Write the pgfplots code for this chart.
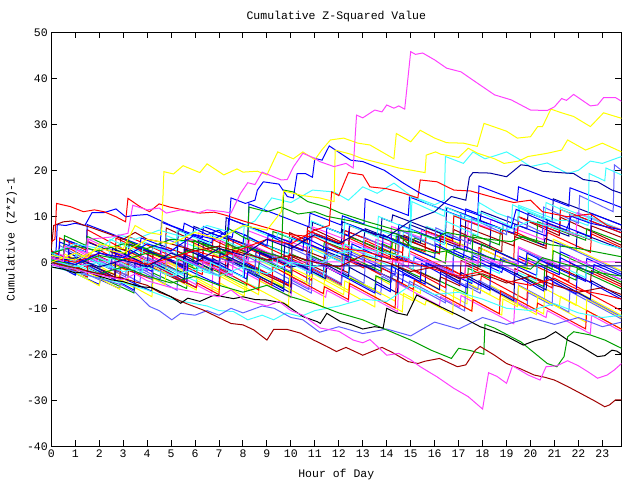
\documentclass[border=0pt]{standalone}
\usepackage{pgfplots}
\pgfplotsset{compat=1.18}
\usepackage{fontspec}
\setmonofont{Liberation Mono}
\newcommand\gp{\ttfamily\fontsize{11.5bp}{13bp}\selectfont}
\definecolor{gR}{HTML}{FF0000}
\definecolor{gG}{HTML}{00A000}
\definecolor{gB}{HTML}{0000FF}
\definecolor{gM}{HTML}{FF40FF}
\definecolor{gC}{HTML}{40FFFF}
\definecolor{gY}{HTML}{FFFF00}
\definecolor{gD}{HTML}{A00000}
\definecolor{gL}{HTML}{6060FF}
\definecolor{gN}{HTML}{0000A0}
\begin{document}
\begin{tikzpicture}
\useasboundingbox (-51.3bp,-33.7bp) rectangle (588.7bp,446.3bp);
\begin{axis}[
  at={(0,0)}, anchor=south west,
  scale only axis, width=570bp, height=414bp,
  xmin=0, xmax=23.79, ymin=-40, ymax=50,
  xtick={0,1,...,23}, ytick={-40,-30,...,50},
  tick align=inside, major tick length=6bp,
  axis line style={line width=1bp},
  every tick/.style={black, line width=1bp},
  tick label style={font=\gp},
  /pgf/number format/assume math mode=true,
  title={Cumulative Z-Squared Value},
  every axis title/.style={font=\gp, at={(axis description cs:0.5,1.0307)}, anchor=base},
  xlabel={Hour of Day},
  xlabel style={font=\gp, at={(axis description cs:0.5,-0.0756)}, anchor=base},
  ylabel={Cumulative (Z*Z)-1},
  ylabel style={font=\gp, at={(axis description cs:-0.0642,0.5)}, anchor=base},
  no markers,
  every axis plot/.append style={line width=1bp},
  clip=true,
]
% ---- band lines ----
\addplot[gR] coordinates {(0,2)(0.7,0.32)(0.75,3.82)(2.65,-0.74)(2.7,5.26)(3.2,4.06)(3.25,5.56)(5.55,0.04)(5.6,5.04)(6.7,2.4)(6.75,4.9)(7.35,3.46)(7.4,4.96)(10.0,-1.28)(10.05,5.72)(11.45,2.36)(11.5,5.36)(12.4,3.2)(12.45,5.2)(14.45,0.4)(14.5,5.9)(16.2,1.82)(16.25,5.82)(17.05,3.9)(17.1,5.9)(19.3,0.62)(19.35,6.62)(20.65,3.5)(20.7,6.5)(22.5,2.18)(22.55,6.18)(23.8,3.18)};
\addplot[gB] coordinates {(0,0.5)(1.5,-3.1)(1.55,0.9)(1.95,-0.06)(2.0,1.14)(3.2,-1.74)(3.25,1.26)(6.05,-5.46)(6.1,1.54)(7.0,-0.62)(7.05,1.38)(8.65,-2.46)(8.7,2.04)(9.2,0.84)(9.25,1.84)(11.35,-3.2)(11.4,1.8)(12.4,-0.6)(12.45,1.9)(14.35,-2.66)(14.4,1.34)(15.1,-0.34)(15.15,1.16)(17.55,-4.6)(17.6,1.4)(18.7,-1.24)(18.75,0.76)(20.25,-2.84)(20.3,0.66)(22.3,-4.14)(22.35,0.86)(23.8,-2.62)};
\addplot[gN] coordinates {(0,1)(0.3,0.4)(0.35,1.4)(1.45,-0.8)(1.5,1.7)(3.7,-2.7)(3.75,3.3)(4.55,1.7)(4.6,3.7)(6.3,0.3)(6.35,4.3)(7.55,1.9)(7.6,4.9)(8.2,3.7)(8.25,5.2)(10.75,0.2)(10.8,6.7)(12.1,4.1)(12.15,7.1)(13.05,5.3)(13.1,7.3)(14.9,3.7)(14.95,8.2)(17.25,3.6)(17.3,9.1)(17.8,8.1)(17.85,9.1)(19.45,5.9)(19.5,9.9)(21.6,5.7)(21.65,10.7)(23.8,6.4)};
\addplot[gY] coordinates {(0,1.5)(1.0,-1.3)(1.05,1.2)(3.45,-5.52)(3.5,0.48)(4.2,-1.48)(4.25,0.02)(5.65,-3.9)(5.7,-0.4)(6.1,-1.52)(6.15,-0.52)(8.15,-6.12)(8.2,-1.12)(9.7,-5.32)(9.75,-1.82)(10.85,-4.9)(10.9,-2.4)(13.5,-9.68)(13.55,-3.18)(14.15,-4.86)(14.2,-3.36)(15.4,-6.72)(15.45,-3.72)(17.35,-9.04)(17.4,-4.54)(18.3,-7.06)(18.35,-5.06)(20.55,-11.22)(20.6,-5.72)(21.9,-9.36)(21.95,-6.36)(23.8,-11.54)};
\addplot[gD] coordinates {(0,2.5)(2.0,-2.3)(2.05,1.2)(2.85,-0.72)(2.9,5.28)(4.2,2.16)(4.25,3.66)(4.75,2.46)(4.8,7.46)(7.0,2.18)(7.05,4.68)(8.05,2.28)(8.1,3.78)(9.9,-0.54)(9.95,6.46)(10.65,4.78)(10.7,7.78)(12.2,4.18)(12.25,6.18)(14.65,0.42)(14.7,5.92)(15.6,3.76)(15.65,7.76)(16.75,5.12)(16.8,7.12)(18.8,2.32)(18.85,8.32)(19.45,6.88)(19.5,9.88)(21.2,5.8)(21.25,9.8)(23.8,3.68)};
\addplot[gL] coordinates {(0,0)(0.5,-1.4)(0.55,2.6)(1.45,0.08)(1.5,1.28)(3.1,-3.2)(3.15,-0.2)(5.25,-6.08)(5.3,0.92)(5.9,-0.76)(5.95,1.24)(7.25,-2.4)(7.3,2.1)(10.0,-5.46)(10.05,-4.46)(10.85,-6.7)(10.9,-1.7)(12.1,-5.06)(12.15,-2.56)(13.75,-7.04)(13.8,-3.04)(14.2,-4.16)(14.25,-2.66)(16.45,-8.82)(16.5,-2.82)(17.9,-6.74)(17.95,-4.74)(19.85,-10.06)(19.9,-6.56)(20.9,-9.36)(20.95,-4.36)(23.8,-12.34)};
\addplot[gR] coordinates {(0,1)(0.3,0.28)(0.35,5.28)(1.45,2.64)(1.5,4.64)(3.7,-0.64)(3.75,2.36)(4.55,0.44)(4.6,1.44)(6.3,-2.64)(6.35,2.86)(7.55,-0.02)(7.6,2.48)(8.2,1.04)(8.25,5.04)(10.75,-0.96)(10.8,0.54)(12.1,-2.58)(12.15,0.92)(13.05,-1.24)(13.1,4.76)(14.9,0.44)(14.95,2.44)(17.25,-3.08)(17.3,-0.58)(17.8,-1.78)(17.85,3.22)(19.45,-0.62)(19.5,0.88)(21.6,-4.16)(21.65,-0.16)(23.8,-5.32)};
\addplot[gG] coordinates {(0,0)(1.0,-2.4)(1.05,-0.9)(3.45,-6.66)(3.5,-4.66)(4.2,-6.34)(4.25,-2.34)(5.65,-5.7)(5.7,-0.7)(6.1,-1.66)(6.15,-0.16)(8.15,-4.96)(8.2,-1.96)(9.7,-5.56)(9.75,0.94)(10.85,-1.7)(10.9,0.3)(13.5,-5.94)(13.55,-2.94)(14.15,-4.38)(14.2,-0.38)(15.4,-3.26)(15.45,-2.26)(17.35,-6.82)(17.4,-1.32)(18.3,-3.48)(18.35,0.02)(20.55,-5.26)(20.6,-0.76)(21.9,-3.88)(21.95,-1.38)(23.8,-5.82)};
\addplot[gC] coordinates {(0,1.5)(2.0,-2.5)(2.05,0)(2.85,-1.6)(2.9,4.4)(4.2,1.8)(4.25,3.3)(4.75,2.3)(4.8,5.8)(7.0,1.4)(7.05,2.4)(8.05,0.4)(8.1,5.4)(9.9,1.8)(9.95,5.3)(10.65,3.9)(10.7,6.4)(12.2,3.4)(12.25,9.9)(14.65,5.1)(14.7,6.6)(15.6,4.8)(15.65,7.8)(16.75,5.6)(16.8,10.1)(18.8,6.1)(18.85,8.1)(19.45,6.9)(19.5,12.4)(21.2,9.0)(21.25,12.0)(23.8,6.9)};
\addplot[gM] coordinates {(0,0.5)(0.7,-1.46)(0.75,3.54)(2.65,-1.78)(2.7,0.22)(3.2,-1.18)(3.25,1.82)(5.55,-4.62)(5.6,-3.62)(6.7,-6.7)(6.75,-1.2)(7.35,-2.88)(7.4,-0.38)(10.0,-7.66)(10.05,-3.66)(11.45,-7.58)(11.5,-6.08)(12.4,-8.6)(12.45,-5.1)(14.45,-10.7)(14.5,-4.7)(16.2,-9.46)(16.25,-7.46)(17.05,-9.7)(17.1,-7.2)(19.3,-13.36)(19.35,-8.36)(20.65,-12.0)(20.7,-10.5)(22.5,-15.54)(22.55,-11.54)(23.8,-15.04)};
\addplot[gN] coordinates {(0,2)(0.5,1)(0.55,5)(1.45,3.2)(1.5,4.4)(3.1,1.2)(3.15,4.2)(5.25,0)(5.3,7)(5.9,5.8)(5.95,7.8)(7.25,5.2)(7.3,9.7)(10.0,4.3)(10.05,5.3)(10.85,3.7)(10.9,8.7)(12.1,6.3)(12.15,8.8)(13.75,5.6)(13.8,9.6)(14.2,8.8)(14.25,10.3)(16.45,5.9)(16.5,11.9)(17.9,9.1)(17.95,11.1)(19.85,7.3)(19.9,10.8)(20.9,8.8)(20.95,13.8)(23.8,8.1)};
\addplot[gY] coordinates {(0,1)(1.5,-3.2)(1.55,-2.2)(1.95,-3.32)(2.0,-0.82)(3.2,-4.18)(3.25,1.82)(6.05,-6.02)(6.1,-4.02)(7.0,-6.54)(7.05,-2.54)(8.65,-7.02)(8.7,-4.02)(9.2,-5.42)(9.25,-3.92)(11.35,-9.8)(11.4,-3.3)(12.4,-6.1)(12.45,-3.1)(14.35,-8.42)(14.4,-6.42)(15.1,-8.38)(15.15,-3.88)(17.55,-10.6)(17.6,-5.1)(18.7,-8.18)(18.75,-7.18)(20.25,-11.38)(20.3,-7.38)(22.3,-12.98)(22.35,-7.98)(23.8,-12.04)};
\addplot[gB] coordinates {(0,0)(2.0,-4.8)(2.05,-3.8)(2.85,-5.72)(2.9,-3.22)(4.2,-6.34)(4.25,-0.34)(4.75,-1.54)(4.8,0.46)(7.0,-4.82)(7.05,-0.82)(8.05,-3.22)(8.1,-0.22)(9.9,-4.54)(9.95,-3.04)(10.65,-4.72)(10.7,1.78)(12.2,-1.82)(12.25,1.18)(14.65,-4.58)(14.7,-2.58)(15.6,-4.74)(15.65,-0.24)(16.75,-2.88)(16.8,2.62)(18.8,-2.18)(18.85,-1.18)(19.45,-2.62)(19.5,1.38)(21.2,-2.7)(21.25,2.3)(23.8,-3.82)};
\addplot[gD] coordinates {(0,1)(0.7,-0.68)(0.75,0.82)(2.65,-3.74)(2.7,-1.74)(3.2,-2.94)(3.25,1.06)(5.55,-4.46)(5.6,0.54)(6.7,-2.1)(6.75,-0.6)(7.35,-2.04)(7.4,0.96)(10.0,-5.28)(10.05,1.22)(11.45,-2.14)(11.5,-0.14)(12.4,-2.3)(12.45,0.7)(14.45,-4.1)(14.5,-0.1)(16.2,-4.18)(16.25,-3.18)(17.05,-5.1)(17.1,0.4)(19.3,-4.88)(19.35,-1.38)(20.65,-4.5)(20.7,0)(22.5,-4.32)(22.55,-1.82)(23.8,-4.82)};
\addplot[gR] coordinates {(0,2.5)(0.5,1.1)(0.55,3.6)(1.45,1.08)(1.5,7.08)(3.1,2.6)(3.15,4.1)(5.25,-1.78)(5.3,1.72)(5.9,0.04)(5.95,1.04)(7.25,-2.6)(7.3,2.4)(10.0,-5.16)(10.05,-1.66)(10.85,-3.9)(10.9,-1.4)(12.1,-4.76)(12.15,1.74)(13.75,-2.74)(13.8,-1.24)(14.2,-2.36)(14.25,0.64)(16.45,-5.52)(16.5,-1.02)(17.9,-4.94)(17.95,-2.94)(19.85,-8.26)(19.9,-2.76)(20.9,-5.56)(20.95,-2.56)(23.8,-10.54)};
\addplot[gL] coordinates {(0,0.5)(0.3,-0.34)(0.35,3.66)(1.45,0.58)(1.5,1.78)(3.7,-4.38)(3.75,-1.38)(4.55,-3.62)(4.6,3.38)(6.3,-1.38)(6.35,0.62)(7.55,-2.74)(7.6,1.76)(8.2,0.08)(8.25,1.08)(10.75,-5.92)(10.8,-0.92)(12.1,-4.56)(12.15,-2.06)(13.05,-4.58)(13.1,-0.58)(14.9,-5.62)(14.95,-4.12)(17.25,-10.56)(17.3,-4.56)(17.8,-5.96)(17.85,-3.96)(19.45,-8.44)(19.5,-4.94)(21.6,-10.82)(21.65,-5.82)(23.8,-11.84)};
\addplot[gN] coordinates {(0,0)(1.0,-2)(1.05,3)(3.45,-1.8)(3.5,0.2)(4.2,-1.2)(4.25,1.8)(5.65,-1)(5.7,0)(6.1,-0.8)(6.15,4.7)(8.15,0.7)(8.2,3.2)(9.7,0.2)(9.75,4.2)(10.85,2)(10.9,3.5)(13.5,-1.7)(13.55,1.8)(14.15,0.6)(14.2,6.6)(15.4,4.2)(15.45,6.2)(17.35,2.4)(17.4,4.9)(18.3,3.1)(18.35,8.1)(20.55,3.7)(20.6,5.2)(21.9,2.6)(21.95,6.6)(23.8,2.9)};
\addplot[gG] coordinates {(0,1)(1.5,-2)(1.55,-0.5)(1.95,-1.3)(2.0,0.7)(3.2,-1.7)(3.25,2.3)(6.05,-3.3)(6.1,1.7)(7.0,-0.1)(7.05,1.4)(8.65,-1.8)(8.7,1.2)(9.2,0.2)(9.25,6.7)(11.35,2.5)(11.4,4.5)(12.4,2.5)(12.45,5.5)(14.35,1.7)(14.4,5.7)(15.1,4.3)(15.15,5.3)(17.55,0.5)(17.6,6)(18.7,3.8)(18.75,7.3)(20.25,4.3)(20.3,8.8)(22.3,4.8)(22.35,7.3)(23.8,4.4)};
\addplot[gY] coordinates {(0,2)(0.5,0.8)(0.55,1.8)(1.45,-0.36)(1.5,2.14)(3.1,-1.7)(3.15,4.3)(5.25,-0.74)(5.3,1.26)(5.9,-0.18)(5.95,3.82)(7.25,0.7)(7.3,3.7)(10.0,-2.78)(10.05,-1.28)(10.85,-3.2)(10.9,3.3)(12.1,0.42)(12.15,3.42)(13.75,-0.42)(13.8,1.58)(14.2,0.62)(14.25,5.12)(16.45,-0.16)(16.5,5.34)(17.9,1.98)(17.95,2.98)(19.85,-1.58)(19.9,2.42)(20.9,0.02)(20.95,5.02)(23.8,-1.82)};
\addplot[gM] coordinates {(0,1)(1.0,-1)(1.05,3)(3.45,-1.8)(3.5,-0.6)(4.2,-2)(4.25,1)(5.65,-1.8)(5.7,5.2)(6.1,4.4)(6.15,6.4)(8.15,2.4)(8.2,6.9)(9.7,3.9)(9.75,4.9)(10.85,2.7)(10.9,7.7)(13.5,2.5)(13.55,5)(14.15,3.8)(14.2,7.8)(15.4,5.4)(15.45,6.9)(17.35,3.1)(17.4,9.1)(18.3,7.3)(18.35,9.3)(20.55,4.9)(20.6,8.4)(21.9,5.8)(21.95,10.8)(23.8,7.1)};
\addplot[gC] coordinates {(0,0)(1.5,-3.6)(1.55,-1.1)(1.95,-2.06)(2.0,3.94)(3.2,1.06)(3.25,2.56)(6.05,-4.16)(6.1,-0.66)(7.0,-2.82)(7.05,-1.82)(8.65,-5.66)(8.7,-0.66)(9.2,-1.86)(9.25,1.64)(11.35,-3.4)(11.4,-0.9)(12.4,-3.3)(12.45,3.2)(14.35,-1.36)(14.4,0.14)(15.1,-1.54)(15.15,1.46)(17.55,-4.3)(17.6,0.2)(18.7,-2.44)(18.75,-0.44)(20.25,-4.04)(20.3,1.46)(22.3,-3.34)(22.35,-0.34)(23.8,-3.82)};
\addplot[gR] coordinates {(0,1)(2.0,-3)(2.05,-2)(2.85,-3.6)(2.9,-1.1)(4.2,-3.7)(4.25,2.3)(4.75,1.3)(4.8,3.3)(7.0,-1.1)(7.05,2.9)(8.05,0.9)(8.1,3.9)(9.9,0.3)(9.95,1.8)(10.65,0.4)(10.7,6.9)(12.2,3.9)(12.25,6.9)(14.65,2.1)(14.7,4.1)(15.6,2.3)(15.65,6.8)(16.75,4.6)(16.8,10.1)(18.8,6.1)(18.85,7.1)(19.45,5.9)(19.5,9.9)(21.2,6.5)(21.25,11.5)(23.8,6.4)};
\addplot[gB] coordinates {(0,1.5)(0.3,0.9)(0.35,4.4)(1.45,2.2)(1.5,8.2)(3.7,3.8)(3.75,5.3)(4.55,3.7)(4.6,8.7)(6.3,5.3)(6.35,7.8)(7.55,5.4)(7.6,6.9)(8.2,5.7)(8.25,12.7)(10.75,7.7)(10.8,10.7)(12.1,8.1)(12.15,10.1)(13.05,8.3)(13.1,13.8)(14.9,10.2)(14.95,14.2)(17.25,9.6)(17.3,11.6)(17.8,10.6)(17.85,16.6)(19.45,13.4)(19.5,16.4)(21.6,12.2)(21.65,16.2)(23.8,11.9)};
\addplot[gD] coordinates {(0,0)(0.7,-1.4)(0.75,1.1)(2.65,-2.7)(2.7,3.3)(3.2,2.3)(3.25,3.8)(5.55,-0.8)(5.6,2.7)(6.7,0.5)(6.75,1.5)(7.35,0.3)(7.4,5.3)(10.0,0.1)(10.05,3.6)(11.45,0.8)(11.5,3.3)(12.4,1.5)(12.45,8)(14.45,4)(14.5,5.5)(16.2,2.1)(16.25,5.1)(17.05,3.5)(17.1,8)(19.3,3.6)(19.35,5.6)(20.65,3)(20.7,8.5)(22.5,4.9)(22.55,7.9)(23.8,5.4)};
\addplot[gL] coordinates {(0,1)(2.0,-3.8)(2.05,0.2)(2.85,-1.72)(2.9,-0.52)(4.2,-3.64)(4.25,-0.64)(4.75,-1.84)(4.8,5.16)(7.0,-0.12)(7.05,1.88)(8.05,-0.52)(8.1,3.98)(9.9,-0.34)(9.95,0.66)(10.65,-1.02)(10.7,3.98)(12.2,0.38)(12.25,2.88)(14.65,-2.88)(14.7,1.12)(15.6,-1.04)(15.65,0.46)(16.75,-2.18)(16.8,3.82)(18.8,-0.98)(18.85,1.02)(19.45,-0.42)(19.5,3.08)(21.2,-1)(21.25,4)(23.8,-2.12)};
\addplot[gN] coordinates {(0,0.5)(0.7,-1.46)(0.75,2.04)(2.65,-3.28)(2.7,2.72)(3.2,1.32)(3.25,2.82)(5.55,-3.62)(5.6,1.38)(6.7,-1.7)(6.75,0.8)(7.35,-0.88)(7.4,0.62)(10.0,-6.66)(10.05,0.34)(11.45,-3.58)(11.5,-0.58)(12.4,-3.1)(12.45,-1.1)(14.45,-6.7)(14.5,-1.2)(16.2,-5.96)(16.25,-1.96)(17.05,-4.2)(17.1,-2.2)(19.3,-8.36)(19.35,-2.36)(20.65,-6)(20.7,-3)(22.5,-8.04)(22.55,-4.04)(23.8,-7.54)};
\addplot[gG] coordinates {(0,2)(0.5,0.8)(0.55,5.8)(1.45,3.64)(1.5,5.64)(3.1,1.8)(3.15,4.8)(5.25,-0.24)(5.3,0.76)(5.9,-0.68)(5.95,4.82)(7.25,1.7)(7.3,4.2)(10.0,-2.28)(10.05,1.72)(10.85,-0.2)(10.9,1.3)(12.1,-1.58)(12.15,1.92)(13.75,-1.92)(13.8,4.08)(14.2,3.12)(14.25,5.12)(16.45,-0.16)(16.5,2.34)(17.9,-1.02)(17.95,3.98)(19.85,-0.58)(19.9,0.92)(20.9,-1.48)(20.95,2.52)(23.8,-4.32)};
\addplot[gY] coordinates {(0,0.5)(2.0,-5.1)(2.05,-3.6)(2.85,-5.84)(2.9,-3.84)(4.2,-7.48)(4.25,-3.48)(4.75,-4.88)(4.8,0.12)(7.0,-6.04)(7.05,-4.54)(8.05,-7.34)(8.1,-4.34)(9.9,-9.38)(9.95,-2.88)(10.65,-4.84)(10.7,-2.84)(12.2,-7.04)(12.25,-4.04)(14.65,-10.76)(14.7,-6.76)(15.6,-9.28)(15.65,-8.28)(16.75,-11.36)(16.8,-5.86)(18.8,-11.46)(18.85,-7.96)(19.45,-9.64)(19.5,-5.14)(21.2,-9.9)(21.25,-7.4)(23.8,-14.54)};
\addplot[gB] coordinates {(0,0)(1.0,-2.8)(1.05,0.7)(3.45,-6.02)(3.5,-0.02)(4.2,-1.98)(4.25,-0.48)(5.65,-4.4)(5.7,0.6)(6.1,-0.52)(6.15,1.98)(8.15,-3.62)(8.2,-2.12)(9.7,-6.32)(9.75,0.68)(10.85,-2.4)(10.9,0.6)(13.5,-6.68)(13.55,-4.68)(14.15,-6.36)(14.2,-0.86)(15.4,-4.22)(15.45,-0.22)(17.35,-5.54)(17.4,-3.54)(18.3,-6.06)(18.35,-0.06)(20.55,-6.22)(20.6,-3.22)(21.9,-6.86)(21.95,-2.86)(23.8,-8.04)};
\addplot[gR] coordinates {(0,1)(1.5,-3.2)(1.55,1.8)(1.95,0.68)(2.0,2.68)(3.2,-0.68)(3.25,2.32)(6.05,-5.52)(6.1,-4.52)(7.0,-7.04)(7.05,-1.54)(8.65,-6.02)(8.7,-3.52)(9.2,-4.92)(9.25,-0.92)(11.35,-6.8)(11.4,-5.3)(12.4,-8.1)(12.45,-4.6)(14.35,-9.92)(14.4,-3.92)(15.1,-5.88)(15.15,-3.88)(17.55,-10.6)(17.6,-8.1)(18.7,-11.18)(18.75,-6.18)(20.25,-10.38)(20.3,-8.88)(22.3,-14.48)(22.35,-10.48)(23.8,-14.54)};
\addplot[gB] coordinates {(0,2)(0.7,0.6)(0.75,4.6)(2.65,0.8)(2.7,2)(3.2,1)(3.25,4)(5.55,-0.6)(5.6,6.4)(6.7,4.2)(6.75,6.2)(7.35,5)(7.4,9.5)(10.0,4.3)(10.05,5.3)(11.45,2.5)(11.5,7.5)(12.4,5.7)(12.45,8.2)(14.45,4.2)(14.5,8.2)(16.2,4.8)(16.25,6.3)(17.05,4.7)(17.1,10.7)(19.3,6.3)(19.35,8.3)(20.65,5.7)(20.7,9.2)(22.5,5.6)(22.55,10.6)(23.8,8.1)};
\addplot[gM] coordinates {(0,0)(0.3,-0.72)(0.35,1.78)(1.45,-0.86)(1.5,5.14)(3.7,-0.14)(3.75,1.36)(4.55,-0.56)(4.6,2.94)(6.3,-1.14)(6.35,-0.14)(7.55,-3.02)(7.6,1.98)(8.2,0.54)(8.25,4.04)(10.75,-1.96)(10.8,0.54)(12.1,-2.58)(12.15,3.92)(13.05,1.76)(13.1,3.26)(14.9,-1.06)(14.95,1.94)(17.25,-3.58)(17.3,0.92)(17.8,-0.28)(17.85,1.72)(19.45,-2.12)(19.5,3.38)(21.6,-1.66)(21.65,1.34)(23.8,-3.82)};
% ---- distinct lines ----
\addplot[gM] coordinates {(0,1.2)(0.8,-0.5)(1.2,0.6)(1.75,0.1)(23.8,0.1)};
\addplot[gN] coordinates {(0,0.5)(1,-1)(1.05,2)(2.5,-1.5)(2.55,3)(4,-0.5)(4.05,2.5)(5.5,-1)(5.55,3)(7,-0.5)(7.05,2)(8.5,-1.5)(8.55,2.5)(10,-1)(10.3,-0.8)(23.8,-0.8)};
\addplot[gC] coordinates {(0,2)(1,0)(1.05,3)(2.4,0)(2.45,5)(3.8,2)(3.85,4.5)(5.2,1.5)(5.25,7)(6.6,4)(6.65,6)(8,3)(8.05,8)(9.4,5)(9.45,6.5)(10.8,3.5)(10.85,9)(12.2,6)(12.25,8.5)(13.6,5.5)(13.65,10)(15,7)(15.05,13.2)(16.4,10)(16.45,12)(17.8,9)(17.85,13)(18.6,10.7)(19.5,9)(19.55,12)(20.9,9)(21.8,9.2)(22.4,8)(22.45,10)(23.8,7)};
\addplot[gL] coordinates {(0,0.5)(1,-1.5)(1.05,2)(2.5,-1.5)(2.55,1.5)(4,-2)(4.05,1)(5.5,-2.5)(5.55,0.5)(7,-3)(7.05,1)(8.5,-2.5)(8.55,1.5)(10,-2)(10.05,3)(11.5,-0.5)(11.55,4)(13,0.5)(13.05,5.5)(14.5,2)(14.55,7)(16,3.5)(16.05,7.5)(17.5,4)(17.55,9.5)(19,6)(19.05,10)(20.5,6.5)(20.55,12)(22,8.5)(22.05,14.5)(23.45,11)(23.5,21.2)(23.8,20)};
\addplot[gC] coordinates {(0,1)(1,-1.4)(1.05,2)(2.4,-1.2)(2.45,1)(3.8,-2.2)(3.85,0.5)(5.2,-2.7)(5.25,1)(6.6,-2.2)(6.65,0)(8,-3.2)(8.05,2)(9.4,-1.2)(9.45,1)(10.8,-2.2)(10.85,3)(12.2,-0.2)(12.25,4)(13.6,0.8)(13.65,6)(15,2.8)(15.05,7)(16.4,3.8)(16.45,9)(17.8,5.8)(17.85,11)(19.2,7.8)(19.25,12.5)(20.6,9.3)(20.65,13)(22.4,8.8)(22.45,19.3)(23.1,17.7)(23.15,20.5)(23.8,19)};
\addplot[gB] coordinates {(0,2)(0.2,2.5)(0.25,8.2)(0.6,8)(1,8.5)(1.4,8)(1.7,10.8)(2.2,10.8)(2.7,11.6)(3.1,9.9)(3.5,10.2)(4,10.4)(4.5,9.2)(5,8)(5.5,7)(5.55,8.5)(6.5,6)(7,7)(7.5,5)(8,4)(8.05,6)(9,3.5)(9.05,6)(10,3.5)(10.5,2.5)(10.55,5.5)(11.5,3)(12.5,1)(12.55,4)(13.8,1)(13.85,6)(15,3)(16,1)(16.05,4)(17.2,1)(17.25,3.5)(18.5,0.5)(18.55,2.5)(19.8,-0.5)(19.85,2)(21.2,-1.5)(21.25,1)(22.6,-2.5)(22.65,-0.5)(23.8,-3)};
\addplot[gC] coordinates {(0,-1)(1,-2.2)(2,-3.5)(3,-4.5)(4,-6)(5,-8)(6,-9)(6.5,-9.5)(7,-10.5)(7.6,-10.7)(8.2,-12.5)(8.8,-11.5)(9.28,-12.5)(9.8,-11)(10.4,-11.8)(11,-10.5)(12,-9.5)(13,-8)(14,-8.5)(15,-5)(16,-7)(17,-6.5)(18,-8)(19,-10)(20,-10.5)(21,-9)(22,-11)(23,-12)(23.8,-11.5)};
\addplot[gL] coordinates {(0,-0.5)(1,-2)(2,-3.5)(3,-5)(3.5,-6.5)(4.1,-9.6)(4.5,-10.5)(5.03,-12.5)(5.4,-11.1)(6,-11.5)(6.5,-10.5)(7,-11.5)(7.5,-10)(8,-11)(8.8,-9.5)(9.3,-10)(10,-12)(10.5,-12.5)(11.2,-15.2)(12,-14)(13,-15.5)(14,-14.5)(15,-16)(16,-13)(17,-14.5)(18,-12)(19,-13.5)(20,-12)(21,-13.5)(22,-12)(23,-14)(23.8,-13)};
\addplot[gC] coordinates {(0,0.5)(1,-1)(2,0)(3,-2)(4,-1)(5,-3)(6,-1.5)(7,-3)(8,-1)(9,-2.5)(10,0)(11,-1)(12,2)(13,3)(14,2)(14.95,1)(15,14.3)(15.5,13.5)(16,12.5)(16.4,13.5)(16.45,23)(17.2,21.5)(17.6,24)(18.1,22.5)(18.6,23.3)(19.0,24)(19.5,22.5)(20.0,20.8)(20.7,21.6)(21.55,19.3)(22,20)(22.5,22)(23,21.5)(23.8,23)};
\addplot[gC] coordinates {(0,2)(1,4)(2,3)(2.8,6)(3.5,5)(4.5,7)(5.5,5.5)(6.5,8)(7.5,6.5)(8.5,9)(9.2,14)(10,13)(10.9,15.7)(11.8,15.3)(12.4,13.5)(13.0,16.4)(13.6,15)(14.3,17.2)(15,14.5)(16,12)(17,10)(18,8.5)(19,7)(20,9)(21,7.5)(22,6)(23,4)(23.8,3)};
\addplot[gG] coordinates {(0,0)(1,-1.5)(2,-2.5)(3,-1)(4,-3)(5,-4.5)(6,-3)(7,-5)(8,-6.5)(9,-5)(10,-7.5)(11,-9)(12,-11)(13,-12.5)(14,-14.7)(15,-16.9)(15.85,-19.1)(16.7,-20.9)(17.0,-18.7)(17.5,-19.2)(18.05,-20)(18.1,-13.5)(18.5,-14.3)(19.6,-17.3)(20.7,-22)(21.1,-22.7)(21.4,-20.5)(21.55,-16.2)(21.8,-15.1)(22.5,-15.8)(23.1,-16.9)(23.8,-18.7)};
\addplot[gG] coordinates {(0,0.5)(1,-0.5)(2,1.5)(3,0.5)(4,2)(5,1)(6,3)(7,2)(8,3.5)(9,2)(9.6,1.2)(9.7,15.7)(10.1,15.3)(10.7,13.2)(11.5,12)(12.07,10.7)(13.2,8.8)(14.4,7)(15.2,6.5)(16,5.2)(16.5,6.5)(17.5,5.5)(18.6,4.8)(19.2,4.5)(19.7,5.6)(20.85,3.8)(22,3)(23,2)(23.8,1.2)};
\addplot[gG] coordinates {(0,2)(1,3.5)(2,2.5)(3,4)(4,3)(5,5)(6,4.5)(7,3)(7.3,2.5)(7.35,7.5)(8.0,5.5)(8.2,5)(8.25,12)(9,11)(9.6,12)(10.3,10.5)(11,11)(11.5,10)(12.5,9)(13.5,7.5)(14.5,6)(15,3.5)(16,2)(17,3)(18,1.5)(19,0)(20,-1.5)(20.5,1)(21.5,-0.5)(22.5,-2)(23.8,-3)};
\addplot[gD] coordinates {(0,3)(0.1,8)(0.5,8.8)(0.9,9)(1.34,8.1)(1.75,7.4)(2.5,6)(3,5)(3.5,6.5)(4,5)(5,4)(6,2.5)(7,3.5)(8,2)(9,0.5)(10,1.5)(11,0)(12,-1)(13,1.5)(14,0)(15,-2)(16,-1)(17,-3.5)(18,-2.5)(19,-4.5)(20,-3)(21,-5)(22,-6.5)(23,-5.5)(23.8,-7)};
\addplot[gD] coordinates {(0,0)(1,-1.2)(2,-2.5)(3,-3.5)(4,-5)(4.5,-6.5)(5,-7.5)(5.65,-9)(6.35,-10.4)(6.9,-11.8)(7.5,-13.3)(8.0,-13.6)(8.45,-14.7)(9.0,-16.9)(9.28,-14.6)(9.85,-14.6)(10.4,-15.4)(10.95,-16.9)(11.5,-18.3)(11.9,-19.4)(12.3,-18.5)(13.0,-20.2)(13.8,-18.5)(14.2,-19.5)(14.9,-21.6)(15.3,-22)(15.6,-21.5)(16.2,-20.9)(16.95,-22.7)(17.3,-22.3)(17.7,-19.1)(17.9,-18.3)(18.5,-20.2)(19.0,-22)(19.6,-23.2)(20.15,-24.5)(20.6,-25)(21.0,-25.6)(21.55,-27)(22.2,-28.8)(22.7,-30.2)(23.1,-31.4)(23.3,-31)(23.55,-29.9)(23.8,-29.9)};
\addplot[gR] coordinates {(0,4.5)(0.15,5)(0.22,12.8)(0.8,12.1)(1.34,11)(1.8,11.4)(2.2,11)(2.7,9.9)(3.1,8.8)(3.2,13.9)(3.7,12.1)(4.1,11)(4.5,12.7)(4.95,12)(5.7,11.2)(6.2,10.7)(6.8,10.9)(7.3,10.2)(8,9)(9,7.5)(10,6)(11,5.5)(12,3)(13,2.5)(14,1)(15,0)(16,-1.5)(17,-3)(18,-2)(19,-4)(20,-5)(21,-3.5)(22,-6)(23,-7)(23.8,-8)};
\addplot[gR] coordinates {(0,1)(1,0)(2,2)(3,1)(4,-0.5)(5,1)(6,2.5)(7,1)(8,3)(9,5)(10,4)(11,7)(11.6,8)(11.7,15.3)(12.0,14.5)(12.4,19.5)(13.0,19)(13.3,16.4)(14.0,16)(14.7,15)(15.3,14)(15.4,17.9)(16.1,17.5)(16.8,15.7)(17.5,15.5)(18.6,13.9)(19.3,13)(20,13.5)(20.5,11)(21.55,9.9)(22.5,10.5)(23.2,8)(23.8,7)};
\addplot[black] coordinates {(0,-1)(0.5,-1.5)(1,-2.3)(1.5,-2)(2,-3)(2.5,-3.8)(3,-4.2)(3.7,-5.3)(4.2,-5.5)(5.0,-7.5)(5.4,-8.9)(5.7,-7.8)(6.2,-8.5)(6.8,-7.1)(7.6,-7.9)(8.0,-7.5)(8.5,-8.1)(9.0,-8.2)(9.7,-8.9)(10.5,-11.8)(11.1,-12.9)(11.23,-13.3)(11.5,-11.1)(12.07,-12.9)(12.5,-13.5)(13.0,-14.5)(13.5,-14)(13.85,-14.3)(14.0,-10)(14.4,-11)(14.85,-11.5)(15.25,-7.1)(15.6,-8)(16.1,-9.3)(17.1,-11.8)(17.9,-14)(18.9,-15.8)(19.7,-18)(20.2,-17)(20.6,-16.5)(21.05,-15.1)(21.55,-16.9)(22.1,-18.3)(22.8,-20.5)(23.1,-20.3)(23.4,-19.1)(23.6,-19.3)(23.8,-20)};
\addplot[gM] coordinates {(0,-0.5)(1,-1.5)(2,-2.8)(3,-3.8)(3.5,-2.5)(4,-4)(5,-5.5)(6,-6.5)(7,-7.5)(7.5,-6)(8,-8)(9,-9.5)(9.5,-8.5)(10,-10.5)(10.5,-11.5)(11.23,-14.3)(12.0,-15)(12.6,-16.9)(13,-17.5)(13.3,-16.8)(14.0,-20.2)(14.5,-19.8)(15.0,-21.2)(15.4,-22.7)(16.1,-24.9)(16.8,-27.4)(17.4,-29.2)(18.0,-31.9)(18.25,-24)(18.6,-24.8)(19.0,-26.3)(19.25,-22.5)(19.9,-24.5)(20.4,-25.6)(20.65,-22.7)(21.1,-22.5)(21.55,-21.4)(22.0,-22.5)(22.4,-23.8)(22.8,-25.2)(23.2,-24.5)(23.5,-23.4)(23.8,-22)};
\addplot[gN] coordinates {(0,0)(1,1)(2,-1)(3,0.5)(4,-1)(5,2)(6,0)(7,3)(8,1.5)(9,5)(10,3)(11,6)(12,4)(13,7)(14,5.5)(15,9)(16,11)(16.7,14.3)(17.3,13.5)(17.45,18.5)(17.6,19.5)(18.3,19.4)(19.0,18.6)(19.6,21.2)(19.9,21)(20.5,19.8)(21.2,19.5)(21.8,19.3)(22.2,18)(22.8,17.5)(23.4,15.7)(23.8,15)};
\addplot[gB] coordinates {(0,1)(1,-0.5)(2,2)(3,1)(4,4)(5,2.5)(6,6)(6.8,5)(7.4,7)(7.5,14)(8.1,12.8)(8.5,13.5)(8.6,15.7)(8.85,17.5)(9.5,17)(9.85,14.3)(10.1,14)(10.26,19.3)(10.6,19.3)(10.9,18.5)(11.0,22.6)(11.3,22.2)(11.6,25.3)(12.5,22.2)(13.0,21.9)(13.9,20)(14.7,17.2)(15.4,15)(16.4,12.9)(17.2,11.4)(17.6,10.7)(18.5,9)(19.2,7.5)(19.4,11.5)(20.5,9)(21.5,7)(21.7,10)(22.5,8.5)(23.8,7)};
\addplot[gY] coordinates {(0,1.5)(1,0.5)(2,3)(3,2)(4,5)(5,4)(6,6.5)(7,5)(8,8)(9,7)(9.6,11)(9.7,15.5)(10.5,14.5)(11.2,14)(11.8,13.2)(11.85,24.4)(12.5,23.5)(13,22.5)(14,21.2)(14.5,20.5)(15.6,19.5)(15.65,23.3)(16.04,24)(16.25,23.5)(17,22.8)(17.4,24.8)(17.8,23.7)(18.5,22.5)(18.9,21.5)(19.5,22)(19.9,23)(20.7,23.7)(21.3,24.4)(21.55,26.6)(22.3,24.4)(23.0,25.9)(23.8,24)};
\addplot[gY] coordinates {(0,0)(1,2)(1.5,1)(2,4)(3,3)(3.5,8)(4.0,6.5)(4.6,6.0)(4.7,19.7)(5.1,19.2)(5.5,21)(6.2,19.5)(6.5,21.4)(7.2,19)(7.75,20.3)(8.0,19.6)(8.6,19.8)(9.0,19)(9.45,24)(10.1,22.5)(10.5,24)(11.0,22.3)(11.3,24.5)(11.65,26.6)(12.2,27)(12.8,25.9)(13.3,25.5)(13.9,23.7)(14.3,22.5)(14.4,28)(15.0,26.2)(15.4,28.7)(16.0,27)(16.5,26)(17.2,25.9)(17.78,25.2)(18.06,30.2)(19.0,28.5)(19.45,27)(20.0,27.3)(20.3,29.5)(20.5,29.5)(20.85,33.3)(21.3,32.5)(21.8,31.7)(22.5,29.5)(23.05,32.5)(23.8,31.3)};
\addplot[gM] coordinates {(0,1)(0.5,0.2)(0.55,3.5)(1.5,2)(1.55,5)(2.5,5.5)(3.2,6.3)(3.4,12.4)(4.0,11.4)(4.5,11.8)(4.8,10.7)(5.4,11.4)(6.1,10.7)(6.5,11.4)(7.2,11)(7.5,10.7)(7.9,15)(8.2,17.3)(8.5,16.9)(8.8,19.6)(9.6,17.9)(9.85,18)(10.1,20.7)(10.5,23.7)(11.0,22.6)(11.2,21.9)(11.8,20.8)(12.3,21.5)(12.6,20.5)(12.74,32)(13.0,31.4)(13.5,33.1)(13.8,32.7)(14.0,34.2)(14.3,33.5)(14.5,34.0)(14.75,33.3)(15.0,45.8)(15.2,45.2)(15.5,45.5)(16.0,44)(16.5,42.2)(17.1,41.4)(17.6,39.6)(18.5,36.4)(19.2,35.3)(20.0,33.1)(20.7,33)(21.0,33.8)(21.3,35.6)(21.5,35.2)(21.8,36.5)(22.5,34)(22.8,34.2)(23.05,35.8)(23.55,35.8)(23.8,35)};
\end{axis}
\end{tikzpicture}
\end{document}
